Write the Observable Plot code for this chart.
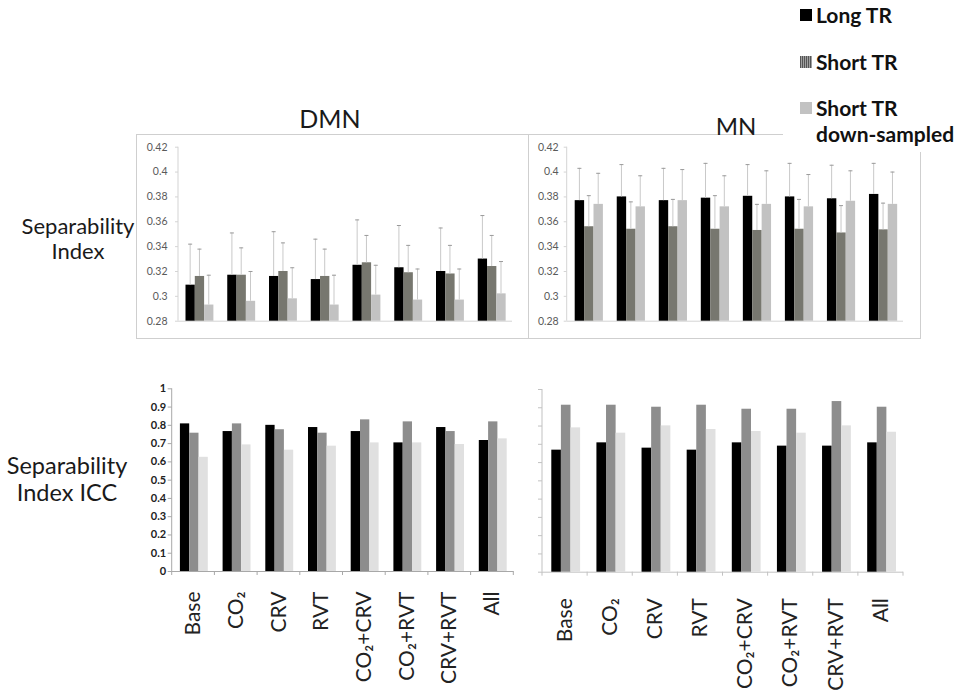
<!DOCTYPE html>
<html><head><meta charset="utf-8">
<script src="https://cdn.jsdelivr.net/npm/d3@7"></script>
<script src="https://cdn.jsdelivr.net/npm/@observablehq/plot@0.6"></script>
<style>
body{margin:0;background:#fff;}
#chart{position:relative;width:964px;height:697px;overflow:hidden;font-family:Lato,"Noto Sans",sans-serif;color:#1a1a1a;background:#fff;}
.abs{position:absolute;}
.box{position:absolute;border:1px solid #cfcfcf;box-sizing:border-box;}
.ttl{position:absolute;text-align:center;white-space:nowrap;}
.lg{position:absolute;font-weight:bold;font-size:21px;line-height:26px;white-space:nowrap;color:#111;}
.sq{position:absolute;width:12px;height:12px;}
</style></head><body><div id="chart"></div><script>
// ---------- data ----------
const categories = ["Base", "CO₂", "CRV", "RVT", "CO₂+CRV", "CO₂+RVT", "CRV+RVT", "All"];
const seriesNames = ["Long TR", "Short TR", "Short TR down-sampled"];

// Separability Index (mean) and upper end of error bar (mean + SD)
const dmnLong   = [0.309, 0.317, 0.316, 0.3135, 0.325, 0.323, 0.320, 0.330];
const dmnShort  = [0.316, 0.317, 0.320, 0.316, 0.327, 0.319, 0.318, 0.324];
const dmnDown   = [0.293, 0.296, 0.298, 0.293, 0.301, 0.297, 0.297, 0.302];
const dmnLongUp  = [0.342, 0.351, 0.352, 0.346, 0.3615, 0.357, 0.355, 0.365];
const dmnShortUp = [0.338, 0.339, 0.343, 0.338, 0.349, 0.341, 0.341, 0.349];
const dmnDownUp  = [0.317, 0.320, 0.323, 0.317, 0.325, 0.322, 0.322, 0.328];

const mnLong   = [0.377, 0.380, 0.377, 0.379, 0.3805, 0.380, 0.3785, 0.382];
const mnShort  = [0.356, 0.354, 0.356, 0.354, 0.353, 0.354, 0.351, 0.3535];
const mnDown   = [0.374, 0.372, 0.377, 0.372, 0.374, 0.372, 0.3765, 0.374];
const mnLongUp  = [0.403, 0.406, 0.403, 0.407, 0.406, 0.407, 0.4055, 0.407];
const mnShortUp = [0.381, 0.376, 0.378, 0.381, 0.374, 0.378, 0.373, 0.375];
const mnDownUp  = [0.399, 0.397, 0.402, 0.397, 0.401, 0.398, 0.401, 0.400];

// Separability Index ICC
const dmnIccLong  = [0.808, 0.766, 0.800, 0.788, 0.766, 0.704, 0.788, 0.717];
const dmnIccShort = [0.757, 0.808, 0.776, 0.757, 0.830, 0.819, 0.766, 0.819];
const dmnIccDown  = [0.625, 0.693, 0.664, 0.686, 0.704, 0.704, 0.695, 0.726];
const mnIccLong  = [0.668, 0.708, 0.679, 0.668, 0.708, 0.690, 0.690, 0.708];
const mnIccShort = [0.914, 0.914, 0.903, 0.914, 0.892, 0.892, 0.934, 0.903];
const mnIccDown  = [0.790, 0.761, 0.801, 0.781, 0.770, 0.761, 0.801, 0.766];

const topTicks = [0.28, 0.3, 0.32, 0.34, 0.36, 0.38, 0.4, 0.42];
const iccTicks = [0, 0.1, 0.2, 0.3, 0.4, 0.5, 0.6, 0.7, 0.8, 0.9, 1];

const topColors = ["#000000", "#77776f", "#c2c2c2"];
const iccColors = ["#000000", "#8d8d8d", "#e0e0e0"];

// ---------- panel builder ----------
function panel(o) {
  const bw = (o.width - o.ml - o.mr) / categories.length;
  const [y0, y1] = o.yDomain;
  const rows = categories.flatMap((c, i) => seriesNames.map((s, j) => ({
    cat: c, series: s, value: o.values[j][i], upper: o.uppers ? o.uppers[j][i] : null
  })));
  const marks = [];
  // axis lines
  marks.push(Plot.ruleY([y0], {stroke: o.axisColor, strokeWidth: 1}));
  marks.push(Plot.barY([categories[0]], {x: d => d, y1: () => y0, y2: () => y1, fill: o.axisColor, insetLeft: -0.5, insetRight: bw - 0.5}));
  marks.push(Plot.axisY({ticks: o.yTicks, tickFormat: o.showYLabels ? (d => String(d)) : (() => ""),
    tickSize: o.tickSize, tickPadding: o.tickPadding, stroke: o.axisColor, fill: o.labelColor,
    fontSize: o.yFontSize, fontWeight: o.yFontWeight, label: null}));
  if (o.boundaryTicks) {
    const t = o.boundaryTicks * (y1 - y0) / (o.height - o.mt - o.mb);
    marks.push(Plot.barY(categories, {x: d => d, y1: () => y0, y2: () => y0 - t, fill: o.axisColor, insetLeft: -0.5, insetRight: bw - 0.5}));
    marks.push(Plot.barY([categories[categories.length - 1]], {x: d => d, y1: () => y0, y2: () => y0 - t, fill: o.axisColor, insetLeft: bw - 0.5, insetRight: -0.5}));
  }
  seriesNames.forEach((s, j) => {
    const sub = rows.filter(d => d.series === s);
    const L = o.barPad + j * o.barW;
    marks.push(Plot.barY(sub, {x: "cat", y1: () => y0, y2: "value", fill: o.colors[j],
      insetLeft: L, insetRight: bw - L - o.barW}));
    if (o.uppers) {
      const c = L + o.barW / 2;
      marks.push(Plot.barY(sub, {x: "cat", y1: "value", y2: "upper", fill: "#c9c9c9",
        insetLeft: c - 0.5, insetRight: bw - c - 0.5}));
      marks.push(Plot.tickY(sub, {x: "cat", y: "upper", stroke: "#9a9a9a", strokeWidth: 1,
        insetLeft: c - 2, insetRight: bw - c - 2}));
    }
  });
  if (o.showX) {
    marks.push(Plot.axisX({tickRotate: -90, tickSize: 0, tickPadding: o.xPad, fontSize: 21,
      fill: "#222", label: null}));
  }
  const svg = Plot.plot({
    width: o.width, height: o.height,
    marginLeft: o.ml, marginRight: o.mr, marginTop: o.mt, marginBottom: o.mb,
    x: {domain: categories, padding: 0, round: false, label: null, axis: o.showX ? undefined : null},
    y: {domain: o.yDomain, label: null},
    style: {background: "transparent", fontFamily: "Lato, 'Noto Sans', sans-serif", overflow: "visible"},
    marks
  });
  svg.style.position = "absolute";
  svg.style.left = o.left + "px";
  svg.style.top = o.top + "px";
  svg.style.maxWidth = "none";
  return svg;
}

const root = document.getElementById("chart");
function add(html) { root.insertAdjacentHTML("beforeend", html); }

// panel boxes
add('<div class="box" style="left:136px;top:134px;width:393px;height:205px"></div>');
add('<div class="box" style="left:528px;top:134px;width:393px;height:205px"></div>');

const topCommon = {top: 134, width: 392, height: 204, mt: 12.7, mb: 17.3, yDomain: [0.28, 0.42], yTicks: topTicks,
  colors: topColors, axisColor: "#d4d4d4", labelColor: "#5a5a5a", yFontSize: 10.5, yFontWeight: "normal",
  showYLabels: true, tickSize: 3, showX: false};
root.appendChild(panel({...topCommon, left: 136, ml: 42, mr: 16, tickPadding: 8, barPad: 7.5, barW: 9.3,
  values: [dmnLong, dmnShort, dmnDown], uppers: [dmnLongUp, dmnShortUp, dmnDownUp]}));
root.appendChild(panel({...topCommon, left: 528, ml: 38.7, mr: 17, tickPadding: 5.5, barPad: 8, barW: 9.4,
  values: [mnLong, mnShort, mnDown], uppers: [mnLongUp, mnShortUp, mnDownUp]}));

root.appendChild(panel({top: 375, left: 120, width: 400, height: 322, ml: 51.7, mr: 6.7, mt: 13.3, mb: 126,
  yDomain: [0, 1], yTicks: iccTicks, colors: iccColors, axisColor: "#a8a8a8", labelColor: "#222",
  yFontSize: 11, yFontWeight: "bold", showYLabels: true, tickSize: 4, tickPadding: 2,
  barPad: 8.2, barW: 9.3, boundaryTicks: 4, showX: true, xPad: 20,
  values: [dmnIccLong, dmnIccShort, dmnIccDown]}));
root.appendChild(panel({top: 375, left: 520, width: 400, height: 322, ml: 22, mr: 17, mt: 14, mb: 125.3,
  yDomain: [0, 1], yTicks: iccTicks, colors: iccColors, axisColor: "#c2c2c2", labelColor: "#222",
  yFontSize: 11, yFontWeight: "bold", showYLabels: false, tickSize: 4, tickPadding: 2,
  barPad: 9.3, barW: 9.6, boundaryTicks: 4, showX: true, xPad: 26,
  values: [mnIccLong, mnIccShort, mnIccDown]}));

// titles and row labels
add('<div class="ttl" style="left:280px;width:100px;top:103px;font-size:25px;line-height:30px">DMN</div>');
add('<div class="ttl" style="left:686px;width:100px;top:111px;font-size:24px;line-height:30px">MN</div>');
add('<div class="ttl" style="left:8px;width:140px;top:213px;font-size:22px;line-height:25px">Separability<br>Index</div>');
add('<div class="ttl" style="left:-3px;width:140px;top:452px;font-size:23.5px;line-height:27px">Separability<br>Index ICC</div>');

// legend (white background hides the MN box top line)
add('<div class="abs" style="left:783px;top:0;width:181px;height:152px;background:#fff"></div>');
add('<div class="sq" style="left:800px;top:9px;background:#000"></div>');
add('<div class="lg" style="left:816px;top:2px">' + seriesNames[0] + '</div>');
add('<div class="sq" style="left:800px;top:56px;background:repeating-linear-gradient(90deg,#555 0 1px,#a0a0a0 1px 2px)"></div>');
add('<div class="lg" style="left:816px;top:49px">' + seriesNames[1] + '</div>');
add('<div class="sq" style="left:800px;top:102px;background:#c2c2c2"></div>');
add('<div class="lg" style="left:816px;top:95px">Short TR<br>down-sampled</div>');
</script></body></html>
